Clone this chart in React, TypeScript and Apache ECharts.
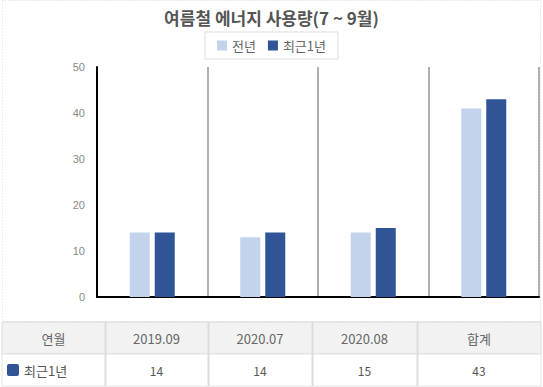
import React, { useEffect, useRef } from "react";
import * as echarts from "echarts";

const titleText = "여름철 에너지 사용량(7 ~ 9월)";
const categories = ["2019.09", "2020.07", "2020.08", "합계"];
const prevName = "전년";
const recentName = "최근1년";
const prevValues = [14, 13, 14, 41];
const recentValues = [14, 14, 15, 43];
const yTicks = [0, 10, 20, 30, 40, 50];
const tableFirstHeader = "연월";

const FONT = "'Noto Sans CJK KR', 'Liberation Sans', sans-serif";
const LIGHT = "#c3d3ec";
const DARK = "#2f5597";

export default function App() {
  const ref = useRef<HTMLDivElement>(null);
  useEffect(() => {
    if (!ref.current) return;
    const chart = echarts.init(ref.current, null, { renderer: "svg" });

    const colX = [2, 105, 208, 312, 417, 541];
    const headY = 322;
    const rowH = 32;
    const graphics: any[] = [];
    graphics.push({
      type: "rect",
      shape: { x: 2.5, y: 0.5, width: 538, height: 321 },
      style: { fill: "none", stroke: "#d9d9d9", lineWidth: 1, lineDash: [1, 2] },
      silent: true,
      z: -1,
    });
    graphics.push({
      type: "rect",
      shape: { x: colX[0], y: headY, width: colX[5] - colX[0], height: rowH },
      style: { fill: "#f2f2f2", stroke: "#d9d9d9", lineWidth: 1 },
    });
    graphics.push({
      type: "rect",
      shape: { x: colX[0], y: headY + rowH, width: colX[5] - colX[0], height: rowH },
      style: { fill: "#fff", stroke: "#e3e3e3", lineWidth: 1 },
    });
    for (let i = 1; i < colX.length - 1; i++) {
      graphics.push({
        type: "line",
        shape: { x1: colX[i] + 0.5, y1: headY, x2: colX[i] + 0.5, y2: headY + rowH * 2 },
        style: { stroke: "#dcdcdc", lineWidth: 2 },
      });
    }
    const headers = [tableFirstHeader, ...categories];
    headers.forEach((h, i) => {
      graphics.push({
        type: "text",
        x: (colX[i] + colX[i + 1]) / 2,
        y: headY + rowH / 2,
        style: { text: h, fill: "#666", font: `13px ${FONT}`, align: "center", verticalAlign: "middle" },
      });
    });
    graphics.push({
      type: "rect",
      shape: { x: 7, y: headY + rowH + 10, width: 12, height: 12, r: 2 },
      style: { fill: DARK },
    });
    graphics.push({
      type: "text",
      x: 24,
      y: headY + rowH + rowH / 2,
      style: { text: recentName, fill: "#555", font: `13px ${FONT}`, align: "left", verticalAlign: "middle" },
    });
    recentValues.forEach((v, i) => {
      graphics.push({
        type: "text",
        x: (colX[i + 1] + colX[i + 2]) / 2,
        y: headY + rowH + rowH / 2,
        style: { text: String(v), fill: "#555", font: `12px ${FONT}`, align: "center", verticalAlign: "middle" },
      });
    });

    chart.setOption({
      animation: false,
      backgroundColor: "#fff",
      textStyle: { fontFamily: FONT },
      title: {
        text: titleText,
        left: "center",
        top: 4,
        textStyle: { fontSize: 17, fontWeight: "bold", color: "#555", fontFamily: FONT },
      },
      legend: {
        top: 32,
        left: "center",
        data: [prevName, recentName],
        itemWidth: 10,
        itemHeight: 10,
        itemGap: 12,
        borderColor: "#ddd",
        borderWidth: 1,
        padding: [7, 12],
        textStyle: { color: "#666", fontSize: 13, fontFamily: FONT },
        icon: "rect",
      },
      grid: { left: 97, right: 4, top: 67, bottom: 90 },
      xAxis: {
        type: "category",
        data: categories,
        axisLine: { show: true, lineStyle: { color: "#000", width: 2 } },
        axisTick: { show: false },
        axisLabel: { show: false },
        splitLine: {
          show: true,
          interval: (i: number) => i > 0,
          lineStyle: { color: "#b0b0b0", width: 2 },
        },
        z: 1,
      },
      yAxis: {
        type: "value",
        min: 0,
        max: yTicks[yTicks.length - 1],
        interval: 10,
        axisLine: { show: true, onZero: false, lineStyle: { color: "#000", width: 2 } },
        axisTick: { show: false },
        splitLine: { show: false },
        axisLabel: { color: "#888", fontSize: 11, margin: 12, fontFamily: "'Liberation Sans', sans-serif" },
        z: 3,
      },
      series: [
        {
          name: prevName,
          type: "bar",
          data: prevValues,
          barWidth: 20,
          barGap: "25%",
          itemStyle: { color: LIGHT },
        },
        {
          name: recentName,
          type: "bar",
          data: recentValues,
          barWidth: 20,
          itemStyle: { color: DARK },
        },
      ],
      graphic: graphics,
    });
    return () => chart.dispose();
  }, []);
  return <div ref={ref} style={{ position: "fixed", left: 0, top: 0, width: 543, height: 387 }} />;
}
